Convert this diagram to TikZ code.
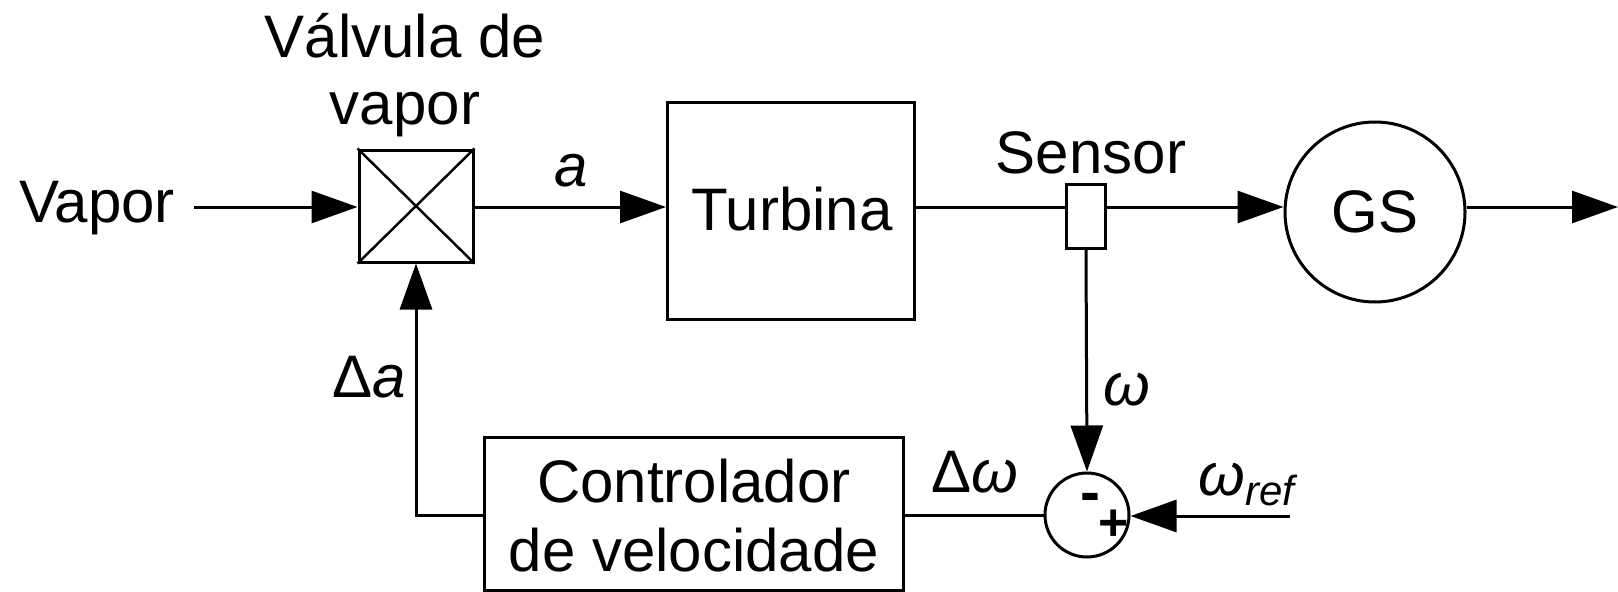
\documentclass[tikz,border=0pt]{standalone}
\usepackage{fontspec}
\setmainfont{Liberation Sans}
\usetikzlibrary{arrows.meta}

\begin{document}
\begin{tikzpicture}[x=1pt,y=-1pt,line width=3pt,
  every node/.style={inner sep=0pt,font=\fontsize{60}{67}\selectfont},
  seta/.style={-{Triangle[length=46pt,width=32pt]}},
  bloco/.style={draw,line width=3pt}]
\useasboundingbox (0,0) rectangle (1618,592);
% blocos
\node[bloco,minimum width=114pt,minimum height=112pt] (valv) at (416,206) {};
\draw[line width=2.5pt] (valv.north west) -- (valv.south east) (valv.north east) -- (valv.south west);
\node[bloco,minimum width=247pt,minimum height=217pt] (turb) at (791,211) {};
\node[bloco,minimum width=39pt,minimum height=64pt] (sens) at (1086,216) {};
\node[bloco,circle,minimum size=180pt] (gs) at (1375,212) {};
\node[bloco,circle,minimum size=84pt] (soma) at (1087,515) {};
\node[bloco,minimum width=419pt,minimum height=153pt] (ctrl) at (694,514) {};
% textos
\node[anchor=base] (tvapor) at (97,222) {Vapor};
\node[anchor=base] (tvalv1) at (405,57) {Válvula de};
\node[anchor=base] (tvalv2) at (405,124) {vapor};
\node[anchor=base] (tturb) at (792,230) {Turbina};
\node[anchor=base] (tsens) at (1091,173) {Sensor};
\node[anchor=base] (tgs) at (1375,232) {GS};
\node[anchor=base] (tctrl1) at (694,502) {Controlador};
\node[anchor=base] (tctrl2) at (694,571) {de velocidade};
\node[anchor=base] (la) at (571,186) {\itshape a};
\node[anchor=base] (lda) at (369,397) {Δ\itshape a};
\node[anchor=base] (lw) at (1127,405) {\itshape ω};
\node[anchor=base] (ldw) at (975,492) {Δ\itshape ω};
\node[anchor=base west] (lwref) at (1197,495) {\itshape ω\raisebox{-10pt}{\fontsize{42}{42}\selectfont ref}};
\node[font=\fontsize{60}{60}\selectfont\bfseries] (menos) at (1090,503) {-};
\node[font=\fontsize{52}{52}\selectfont\bfseries] (mais) at (1114,525) {+};
% ligacoes
\coordinate (ini) at (194,207);
\coordinate (fim) at (1618,207);
\coordinate (ref) at (1290,516);
\draw[seta] (ini) -- (ini -| valv.west);
\draw[seta] (valv.east |- ini) -- (ini -| turb.west);
\draw (turb.east |- ini) -- (ini -| sens.west);
\draw[seta] (sens.east |- ini) -- (ini -| gs.west);
\draw[seta] (gs.east |- ini) -- (fim);
\draw[seta] (sens.south) -- (soma.north);
\draw[seta] (ref) -- (ref -| soma.east);
\draw (soma.west) -- (soma.west -| ctrl.east);
\draw[seta] (soma.west -| ctrl.west) -- ++(-67,0) -- (valv.south);
\end{tikzpicture}
\end{document}
